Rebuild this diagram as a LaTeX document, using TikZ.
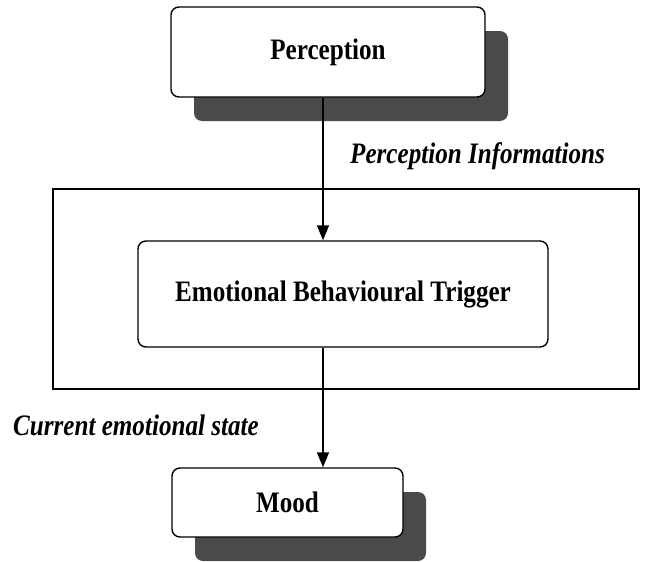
\documentclass[tikz,border=0pt]{standalone}
\usepackage{fontspec}
\usepackage{graphicx}
\setmainfont{Liberation Serif}
\usetikzlibrary{arrows.meta,shadows}
\definecolor{shadowc}{HTML}{4A4A4A}
\newcommand\sqtxt[1]{\scalebox{0.93}[1.1]{#1}}
\begin{document}
\begin{tikzpicture}[x=1pt,y=-1pt,
  box/.style={draw=black, line width=1.4pt, fill=white, rounded corners=8pt, inner sep=0pt,
    font=\fontsize{27}{30}\selectfont\bfseries},
  shadowed/.style={drop shadow={shadow xshift=23pt, shadow yshift=-24pt, fill=shadowc, opacity=1, draw=none}},
  lab/.style={font=\fontsize{27}{30}\selectfont\bfseries\itshape, inner sep=0pt, anchor=base west},
  arr/.style={line width=1.4pt, -{Triangle[width=12pt,length=15pt]}}
]
\useasboundingbox (0,0) rectangle (646,562);
\node[box, shadowed, minimum width=314pt, minimum height=90pt] (perc) at (328,52) {\sqtxt{Perception}};
\node[draw=black, line width=1.4pt, minimum width=586pt, minimum height=200pt, inner sep=0pt] (outer) at (346,289) {};
\node[box, minimum width=410pt, minimum height=106pt] (ebt) at (343,294) {\sqtxt{Emotional Behavioural Trigger}};
\node[box, shadowed, minimum width=231pt, minimum height=69pt] (mood) at (287.5,502.5) {\sqtxt{Mood}};
\coordinate (ax) at (323,0);
\draw[arr] (perc.south -| ax) -- (ebt.north -| ax);
\draw[arr] (ebt.south -| ax) -- (mood.north -| ax);
\node[lab] (l1) at (350,163) {\sqtxt{Perception Informations}};
\node[lab] (l2) at (13,435) {\sqtxt{Current emotional state}};
\end{tikzpicture}
\end{document}
